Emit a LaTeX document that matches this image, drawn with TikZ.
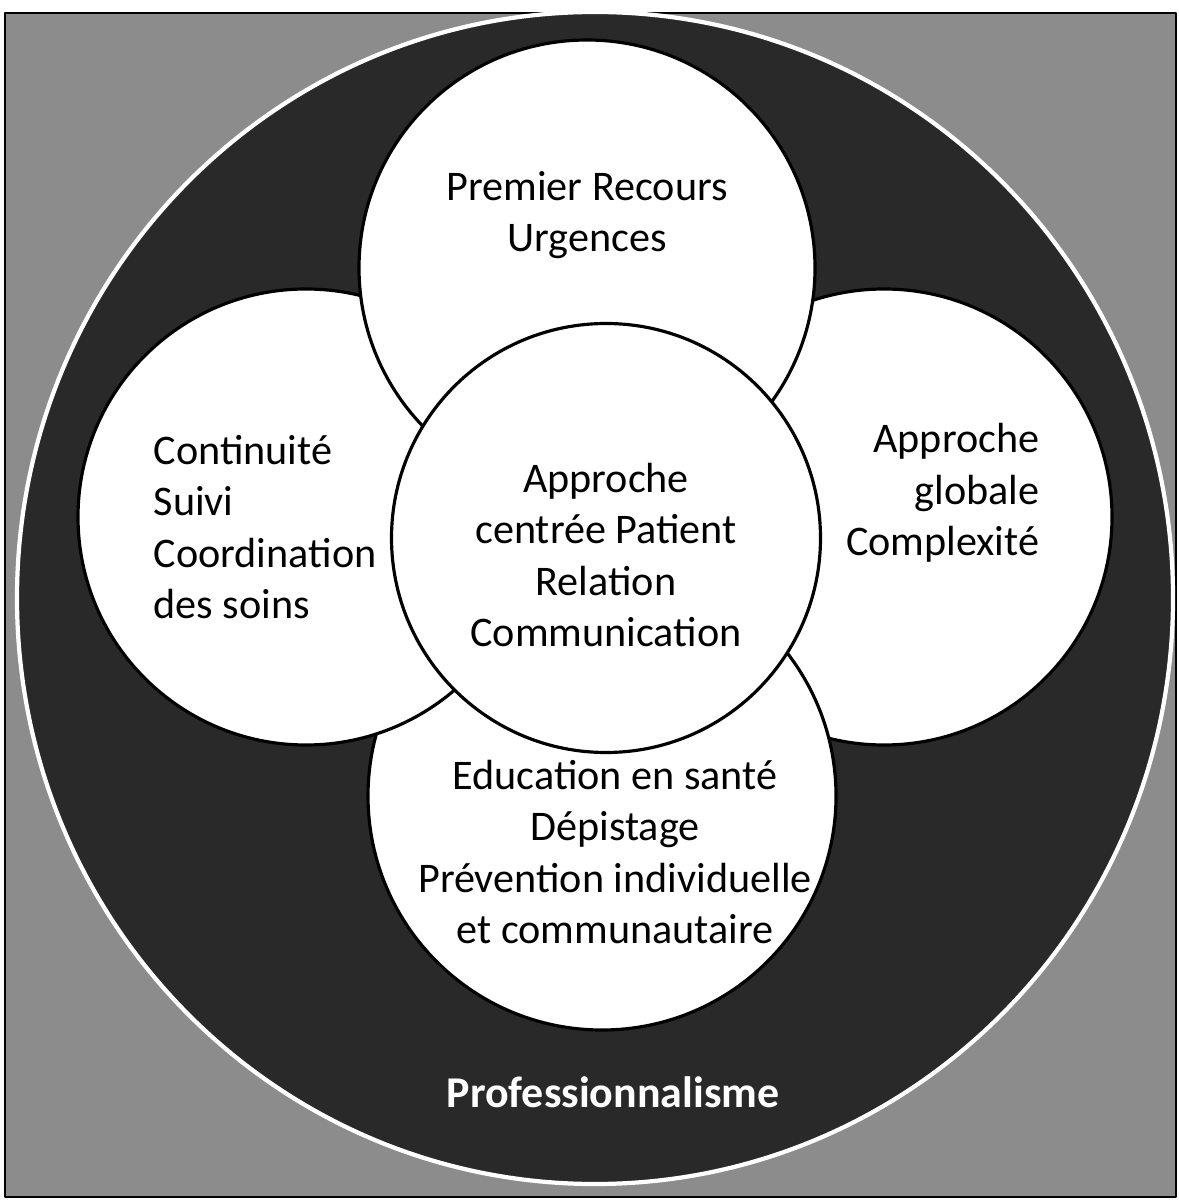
\documentclass[tikz,border=0pt]{standalone}
\usepackage{fontspec}
\setmainfont{Carlito}
\definecolor{bggray}{gray}{0.55}
\definecolor{ringdark}{gray}{0.16}
\tikzset{
  petal/.style={circle,draw=black,line width=0.9pt,fill=white,minimum size=4.56cm,inner sep=0pt},
  core/.style={circle,draw=black,line width=0.9pt,fill=white,minimum size=4.29cm,inner sep=0pt},
  lbl/.style={font=\fontsize{12}{14.6}\selectfont,text=black,inner sep=0pt}
}

\begin{document}
\begin{tikzpicture}[line cap=round,line join=round,x=1.0cm,y=1.0cm]
\useasboundingbox (0,0) rectangle (11.79,-12.02);
% background and outer ring
\draw[fill=bggray,draw=black,line width=0.6pt] (0.05,-0.13) rectangle (11.76,-11.97);
\coordinate (mid) at (5.95,-5.98);
\draw[fill=ringdark,draw=white,line width=1.2pt] (mid) ellipse [x radius=5.78, y radius=5.86];
% petals: right, bottom, left, top, then the core on top
\node[petal] (petR) at (8.84,-5.17) {};
\node[petal,minimum size=4.68cm] (petB) at (6.02,-7.96) {};
\node[petal] (petL) at (3.06,-5.17) {};
\node[petal] (petT) at (5.87,-2.68) {};
\node[core] (core) at (6.06,-5.38) {};
% texts
\node[lbl,align=center] (txtT) at (5.87,-2.15) {Premier Recours\\Urgences};
\node[lbl,align=left,anchor=west] (txtL) at (1.53,-5.27) {Continuité\\Suivi\\Coordination\\des soins};
\node[lbl,align=right,anchor=east] (txtR) at (10.40,-4.93) {Approche\\globale\\Complexité};
\node[lbl,align=center] (txtC) at (6.06,-5.55) {Approche\\centrée Patient\\Relation\\Communication};
\node[lbl,align=center] (txtB) at (6.15,-8.52) {Education en santé\\Dépistage\\Prévention individuelle\\et communautaire};
\node[lbl,text=white,font=\fontsize{12.5}{15}\selectfont\bfseries] (txtP) at (6.13,-10.92) {Professionnalisme};
\end{tikzpicture}
\end{document}
